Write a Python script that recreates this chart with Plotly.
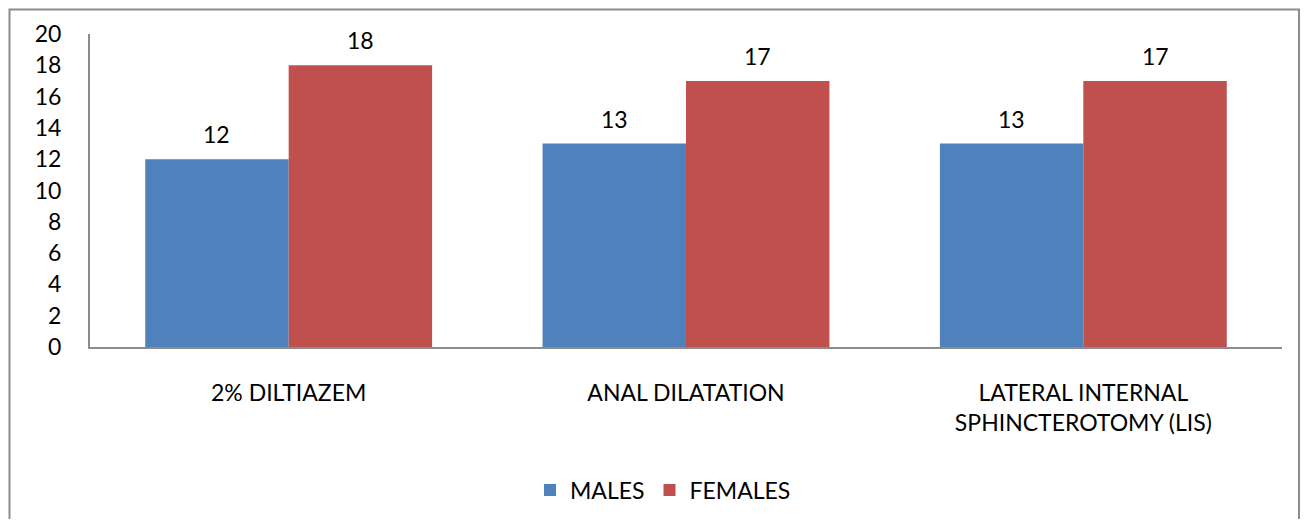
import plotly.graph_objects as go

categories = ["2% DILTIAZEM", "ANAL DILATATION", "LATERAL INTERNAL<br>SPHINCTEROTOMY (LIS)"]
males = [12, 13, 13]
females = [18, 17, 17]
series_names = ["MALES", "FEMALES"]
colors = ["#4F81BD", "#C0504D"]
yticks = [0, 2, 4, 6, 8, 10, 12, 14, 16, 18, 20]

FONT = "Lato"
FS = 23
OFF = 8  # default page body margin
W, H = 1311 - OFF, 527 - 2 * OFF
L, T = 90 - OFF, 34 - OFF
PR, PB = 1282 - OFF, 347 - OFF
R, B = W - PR, H - PB
pw = W - L - R
ph = H - T - B

fig = go.Figure()
for name, vals, col in zip(series_names, [males, females], colors):
    fig.add_trace(go.Bar(x=categories, y=vals, name=name, marker=dict(color=col, line=dict(width=0))))

bargap = 0.278
group_w = pw / len(categories)
bar_w = group_w * (1 - bargap) / 2
for i, vals in enumerate([males, females]):
    sh = (i - 0.5) * bar_w
    for c, v in zip(categories, vals):
        fig.add_annotation(x=c, y=v, text=str(v), showarrow=False, xshift=sh, yshift=25,
                           yanchor="middle", font=dict(family=FONT, size=FS, color="black"))

fig.add_shape(type="rect", xref="paper", yref="paper",
              x0=(1.5 - L) / pw, x1=(1291 - L) / pw,
              y0=-(560 - PB) / ph, y1=(PB - 1.5) / ph,
              line=dict(color="#8C8C8C", width=2), layer="below")

fig.update_layout(
    width=W, height=H,
    margin=dict(l=L, r=R, t=T, b=B, autoexpand=False),
    paper_bgcolor="white", plot_bgcolor="white",
    barmode="group", bargap=bargap, bargroupgap=0,
    font=dict(family=FONT, size=FS, color="black"),
    showlegend=True,
    legend=dict(orientation="h", x=(663 - OFF - L) / pw, xanchor="center",
                y=-(490 - OFF - PB) / ph, yanchor="middle",
                font=dict(family=FONT, size=FS, color="black"), itemwidth=30, tracegroupgap=0),
)
fig.update_xaxes(showline=True, linecolor="#8C8C8C", linewidth=2, showgrid=False, ticks="", automargin=False,
                 ticklabelstandoff=24, tickfont=dict(family=FONT, size=FS))
fig.update_yaxes(range=[0, 20], tickvals=yticks, showline=True, linecolor="#8C8C8C", linewidth=2, automargin=False,
                 showgrid=False, zeroline=False, ticks="", ticklabelstandoff=22,
                 tickfont=dict(family=FONT, size=FS))

fig.write_html("out.html")
